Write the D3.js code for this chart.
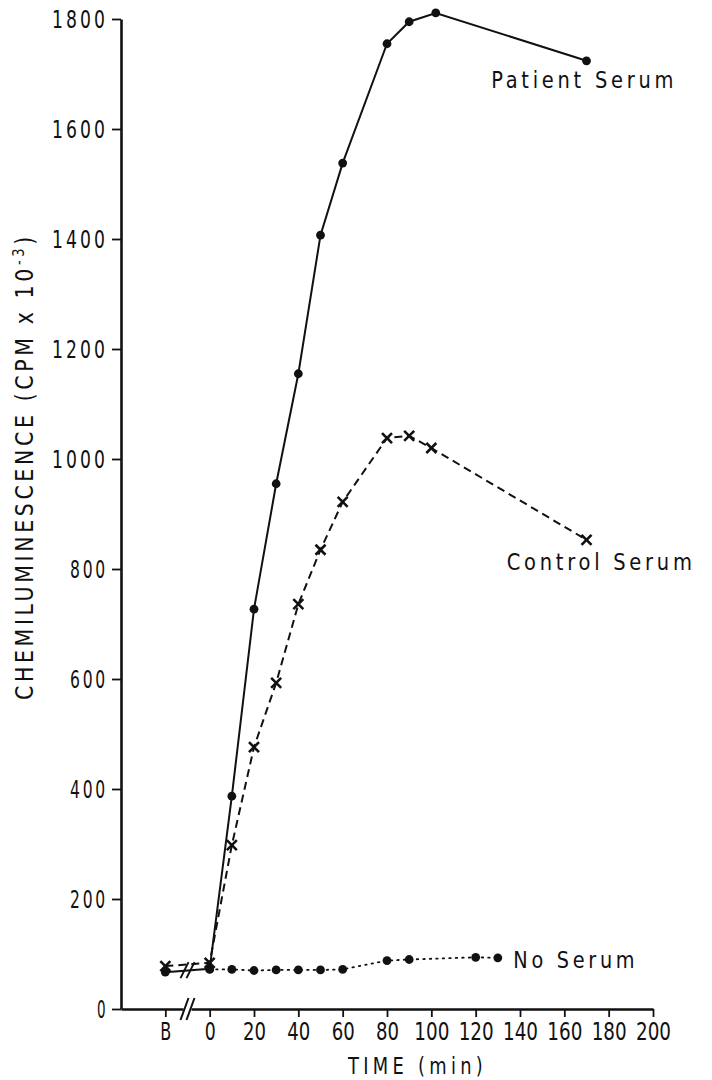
<!DOCTYPE html>
<html>
<head>
<meta charset="utf-8">
<script src="https://cdn.jsdelivr.net/npm/d3@7"></script>
<style>
  body { margin: 0; background: #fff; }
  svg text { font-family: "Liberation Sans Narrow", "DejaVu Sans Condensed", "Liberation Sans", sans-serif; fill: #111; }
</style>
</head>
<body>
<svg id="chart" width="712" height="1080"></svg>
<script>
// "B" (baseline reading) is drawn before the axis break, 20 min left of zero
const BASELINE = -20;

const xTicks = [BASELINE, 0, 20, 40, 60, 80, 100, 120, 140, 160, 180, 200];
const xTickLabels = ['B', '0', '20', '40', '60', '80', '100', '120', '140', '160', '180', '200'];
const yTicks = [0, 200, 400, 600, 800, 1000, 1200, 1400, 1600, 1800];

const patientTime = [BASELINE, 0, 10, 20, 30, 40, 50, 60, 80, 90, 102, 170];
const patientCL = [67, 73, 387, 727, 955, 1155, 1407, 1538, 1755, 1795, 1811, 1724];

const controlTime = [BASELINE, 0, 10, 20, 30, 40, 50, 60, 80, 90, 100, 170];
const controlCL = [78, 84, 298, 476, 593, 736, 835, 922, 1038, 1042, 1020, 853];

const noSerumTime = [0, 10, 20, 30, 40, 50, 60, 80, 90, 120, 130];
const noSerumCL = [72, 72, 70, 71, 71, 71, 72, 88, 90, 94, 93];

const seriesNames = ['Patient Serum', 'Control Serum', 'No Serum'];
const labelTime = [127, 134, 137];
const labelCL = [1675, 798, 75];
const labelWidth = [186, 189, 125];

const svg = d3.select('#chart');

const x = d3.scaleLinear().domain([-40, 200]).range([121, 653]);
const y = d3.scaleLinear().domain([0, 1800]).range([1009, 19]);

// squeeze glyphs into the narrow, spaced-out look of the original lettering
const squeeze = (sel, w, gap) => sel
  .style('letter-spacing', (gap || 0) + 'px')
  .attr('textLength', w)
  .attr('lengthAdjust', 'spacingAndGlyphs');

// axes
const yAxis = svg.append('g')
  .attr('transform', `translate(${x(-40)},0)`)
  .call(d3.axisLeft(y).tickValues(yTicks).tickFormat(d3.format('d'))
    .tickSize(9).tickPadding(4).tickSizeOuter(0));
yAxis.select('.domain').attr('stroke-width', 2.6).attr('stroke', '#111');
yAxis.selectAll('.tick line').attr('stroke-width', 1.8).attr('stroke', '#111');
yAxis.selectAll('.tick text')
  .attr('font-size', 25)
  .attr('fill', '#111')
  .each(function (d) {
    const n = String(d).length;
    squeeze(d3.select(this), n === 1 ? 11 : n === 3 ? 38 : 56, 4);
  });

const xAxis = svg.append('g')
  .attr('transform', `translate(0,${y(0)})`)
  .call(d3.axisBottom(x).tickValues(xTicks).tickFormat((d, i) => xTickLabels[i])
    .tickSize(8).tickPadding(6).tickSizeOuter(0));
xAxis.select('.domain').attr('stroke-width', 2.6).attr('stroke', '#111');
xAxis.selectAll('.tick line').attr('stroke-width', 1.8).attr('stroke', '#111');
xAxis.selectAll('.tick text')
  .attr('font-size', 24)
  .attr('fill', '#111')
  .each(function (d, i) {
    const n = xTickLabels[i].length;
    squeeze(d3.select(this), n === 1 ? 11 : n === 2 ? 23 : 35, 0);
  });

// axis break on the time axis
const brk = (cx, cy, h) => {
  [-3, 3].forEach(off => {
    svg.append('line')
      .attr('x1', cx + off - 4).attr('y1', cy + h / 2)
      .attr('x2', cx + off + 4).attr('y2', cy - h / 2)
      .attr('stroke', '#111').attr('stroke-width', 2);
  });
};
svg.append('rect').attr('x', x(-10) - 4).attr('y', y(0) - 3).attr('width', 8).attr('height', 6).attr('fill', '#fff');
brk(x(-10), y(0), 22);

// axis titles
squeeze(svg.append('text')
  .attr('x', 348).attr('y', 1074)
  .attr('font-size', 23)
  .text('TIME (min)'), 139, 5);

const yTitle = svg.append('text')
  .attr('transform', 'translate(33,700) rotate(-90)')
  .attr('font-size', 25);
yTitle.append('tspan').text('CHEMILUMINESCENCE (CPM x 10');
yTitle.append('tspan').attr('dy', -9).attr('font-size', 16).text('-3');
yTitle.append('tspan').attr('dy', 9).text(')');
squeeze(yTitle, 467, 4);

// series
const line = d3.line().x(d => x(d[0])).y(d => y(d[1]));
const zip = (t, v) => t.map((d, i) => [d, v[i]]);

const patient = zip(patientTime, patientCL);
const control = zip(controlTime, controlCL);
const noSerum = zip(noSerumTime, noSerumCL);

svg.append('path').datum(patient).attr('d', line)
  .attr('fill', 'none').attr('stroke', '#111').attr('stroke-width', 2);
svg.append('path').datum(control).attr('d', line)
  .attr('fill', 'none').attr('stroke', '#111').attr('stroke-width', 2)
  .attr('stroke-dasharray', '8,5');
svg.append('path').datum(noSerum).attr('d', line)
  .attr('fill', 'none').attr('stroke', '#111').attr('stroke-width', 1.8)
  .attr('stroke-dasharray', '1.5,5').attr('stroke-linecap', 'round');

// break marks across the B -> 0 segment
brk(x(-10), (y(patientCL[0]) + y(controlCL[0])) / 2 + 1, 16);

svg.append('g').selectAll('circle')
  .data(patient.concat(noSerum))
  .join('circle')
  .attr('cx', d => x(d[0]))
  .attr('cy', d => y(d[1]))
  .attr('r', 4.4)
  .attr('fill', '#111');

const cross = svg.append('g').attr('stroke', '#111').attr('stroke-width', 2.6);
control.forEach(d => {
  const cx = x(d[0]), cy = y(d[1]), s = 5;
  cross.append('line').attr('x1', cx - s).attr('y1', cy - s).attr('x2', cx + s).attr('y2', cy + s);
  cross.append('line').attr('x1', cx - s).attr('y1', cy + s).attr('x2', cx + s).attr('y2', cy - s);
});

// series labels
svg.append('g').selectAll('text')
  .data(seriesNames)
  .join('text')
  .attr('x', (d, i) => x(labelTime[i]))
  .attr('y', (d, i) => y(labelCL[i]))
  .attr('font-size', 23)
  .text(d => d)
  .each(function (d, i) { squeeze(d3.select(this), labelWidth[i], 4); });
</script>
</body>
</html>
